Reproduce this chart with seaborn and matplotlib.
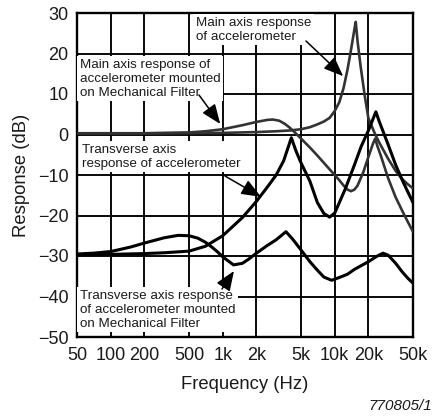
import matplotlib
matplotlib.use("Agg")
import matplotlib.pyplot as plt
import seaborn as sns
from matplotlib.ticker import NullLocator

# ---------------- data ----------------
# Main axis response of accelerometer
main_f = [50, 200, 1000, 2000, 3000, 4000, 5000, 6000, 7000, 8000, 9000, 10000,
          11000, 12000, 13000, 14000, 15000, 15400, 16000, 17000, 18600, 20000,
          23000, 25000, 30000, 35000, 40000, 45000, 50000]
main_db = [0.3, 0.3, 0.4, 0.6, 0.8, 1.0, 1.3, 1.8, 2.5, 3.2, 4.1, 5.8,
           8.0, 11.5, 16.0, 21.0, 26.0, 27.8, 23.0, 17.0, 9.3, 4.0,
           0.0, -2.0, -6.0, -9.0, -11.0, -12.3, -13.3]

# Main axis response of accelerometer mounted on Mechanical Filter
filt_f = [50, 200, 500, 700, 1000, 1500, 2000, 2500, 2800, 3200, 3600, 4000,
          4600, 5000, 6000, 7000, 8000, 9000, 10000, 11000, 12000, 13000, 14000,
          15000, 16000, 18000, 20000, 22000, 23000, 24000, 26000, 30000, 35000,
          40000, 45000, 50000]
filt_db = [0.3, 0.3, 0.5, 0.8, 1.3, 2.3, 3.1, 3.6, 3.7, 3.4, 2.6, 1.6,
           0.0, -1.0, -3.2, -5.2, -7.0, -8.6, -10.0, -11.3, -12.6, -13.6, -14.0,
           -13.6, -12.6, -9.3, -5.5, -2.2, -1.0, -2.8, -5.5, -10.8, -15.5,
           -18.8, -21.6, -24.0]

# Transverse axis response of accelerometer
trans_f = [50, 100, 200, 300, 500, 700, 1000, 1500, 2000, 2500, 3000, 3500,
           4100, 4500, 5000, 6000, 7000, 8000, 9000, 10000, 12400, 15000,
           17200, 20000, 23300, 25000, 30000, 35000, 40000, 45000, 50000]
trans_db = [-29.7, -29.6, -29.4, -29.2, -28.8, -27.6, -25.0, -20.5, -16.5, -13.0,
            -10.0, -6.5, -0.8, -4.0, -7.0, -11.5, -16.8, -19.5, -20.4, -19.4,
            -13.5, -7.5, -3.0, 1.0, 5.6, 3.2, -2.5, -7.5, -11.2, -14.2, -16.8]

# Transverse axis response of accelerometer mounted on Mechanical Filter
tfilt_f = [50, 70, 100, 150, 200, 300, 400, 500, 600, 700, 800, 900, 1000,
           1250, 1500, 1700, 2000, 2500, 3000, 3670, 4200, 5000, 6000, 7000,
           8000, 9400, 11000, 13000, 15000, 20000, 24000, 27000, 30000, 35000,
           40000, 45000, 50000]
tfilt_db = [-29.5, -29.3, -28.9, -27.8, -26.8, -25.5, -24.9, -25.0, -25.6, -26.6,
            -27.8, -29.0, -30.2, -32.2, -31.8, -30.8, -29.3, -27.4, -26.0, -24.0,
            -25.8, -28.5, -31.4, -33.5, -35.2, -36.0, -35.3, -34.5, -33.3, -31.4,
            -30.0, -29.3, -29.8, -31.8, -33.9, -35.5, -36.7]

x_ticks = [50, 100, 200, 500, 1000, 2000, 5000, 10000, 20000, 50000]
x_tick_labels = ["50", "100", "200", "500", "1k", "2k", "5k", "10k", "20k", "50k"]
y_ticks = [-50, -40, -30, -20, -10, 0, 10, 20, 30]
y_tick_labels = ["\u221250", "\u221240", "\u221230", "\u221220", "\u221210",
                 "0", "10", "20", "30"]

# ---------------- styling ----------------
sns.set_theme(style="white")
plt.rcParams["font.family"] = ["Liberation Sans", "DejaVu Sans"]

W, H = 434, 418
fig = plt.figure(figsize=(W / 100, H / 100), dpi=100)
ax = fig.add_axes([77 / W, 1 - 337 / H, 336 / W, 324 / H])


def fp(x, y):
    """pixel position -> figure fraction"""
    return (x / W, 1 - y / H)


GRAY = "#333333"
BLACK = "#000000"

sns.lineplot(x=main_f, y=main_db, ax=ax, color=GRAY, lw=1.9, estimator=None,
             sort=False, zorder=4)
sns.lineplot(x=filt_f, y=filt_db, ax=ax, color=GRAY, lw=1.9, estimator=None,
             sort=False, zorder=4)
sns.lineplot(x=trans_f, y=trans_db, ax=ax, color=BLACK, lw=2.2, estimator=None,
             sort=False, zorder=5)
sns.lineplot(x=tfilt_f, y=tfilt_db, ax=ax, color=BLACK, lw=2.2, estimator=None,
             sort=False, zorder=5)

ax.set_xscale("log")
ax.set_xlim(50, 50000)
ax.set_ylim(-50, 30)
ax.set_xticks(x_ticks)
ax.set_xticklabels(x_tick_labels)
ax.xaxis.set_minor_locator(NullLocator())
ax.set_yticks(y_ticks)
ax.set_yticklabels(y_tick_labels)
ax.tick_params(axis="both", length=0, labelsize=13, colors="#1a1a1a")
ax.tick_params(axis="x", pad=7)
ax.tick_params(axis="y", pad=6)
ax.grid(True, color=BLACK, lw=1.35)
ax.set_axisbelow(True)
for s in ax.spines.values():
    s.set_color(BLACK)
    s.set_linewidth(1.7)

ax.set_xlabel("Frequency (Hz)", fontsize=13.3, labelpad=9, color="#1a1a1a")
ax.set_ylabel("Response (dB)", fontsize=13.3, labelpad=6, color="#1a1a1a")

box = dict(boxstyle="square,pad=0.2", fc="white", ec="none")
tkw = dict(transform=fig.transFigure, fontsize=9.6, ha="left", va="top",
           color="#1a1a1a", bbox=box, zorder=3, linespacing=1.2)

ax.text(*fp(196, 17), "Main axis response\nof accelerometer", **tkw)
ax.text(*fp(80, 59), "Main axis response of\naccelerometer mounted\non Mechanical Filter", **tkw)
ax.text(*fp(82, 144), "Transverse axis\nresponse of accelerometer", **tkw)
ax.text(*fp(80, 290), "Transverse axis response\nof accelerometer mounted\non Mechanical Filter", **tkw)

arw = dict(arrowstyle="-|>,head_length=0.8,head_width=0.32", color=BLACK, lw=1.1,
           mutation_scale=15, shrinkA=0, shrinkB=0)
ax.annotate("", xy=(11900, 14.4), xycoords="data", xytext=fp(306, 41),
            textcoords="figure fraction", arrowprops=arw, zorder=6)
ax.annotate("", xy=(950, 2.6), xycoords="data", xytext=fp(199, 95),
            textcoords="figure fraction", arrowprops=arw, zorder=6)
ax.annotate("", xy=(2200, -15.4), xycoords="data", xytext=fp(225, 176),
            textcoords="figure fraction", arrowprops=arw, zorder=6)
ax.annotate("", xy=(1260, -33.7), xycoords="data", xytext=fp(222, 289),
            textcoords="figure fraction", arrowprops=arw, zorder=6)

fig.text(*fp(432, 406), "770805/1", fontsize=11, style="italic", ha="right",
         va="center", color="#1a1a1a")

fig.savefig("out.png", dpi=100)
